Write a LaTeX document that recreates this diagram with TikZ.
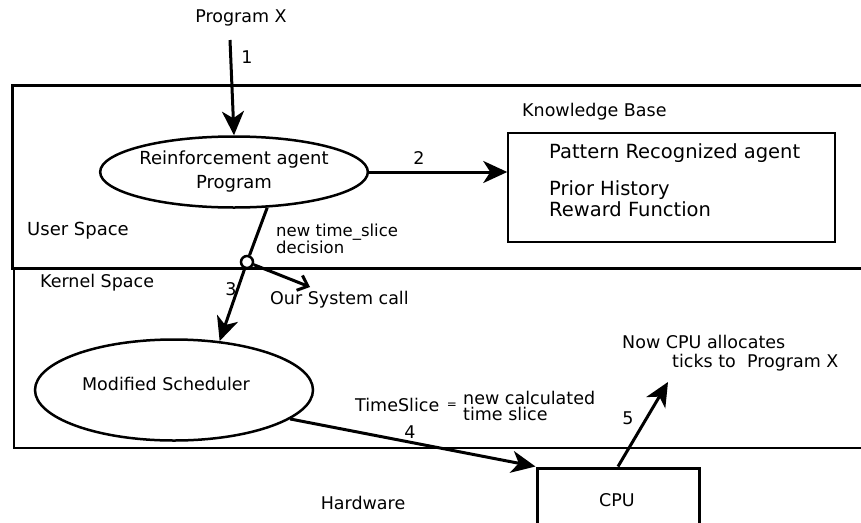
\documentclass[tikz,border=0pt]{standalone}
\usepackage{fontspec}
\setmainfont{DejaVu Sans}
\usetikzlibrary{arrows.meta,shapes.geometric}
\tikzset{
  txt/.style={inner sep=0pt, font=\fontsize{17.5}{20}\selectfont},
  ltxt/.style={txt, anchor=west},
  arr/.style={line width=3pt, -{Stealth[length=24pt,width=22pt,inset=7pt]}},
  ell/.style={ellipse, draw, line width=2.5pt, inner sep=0pt},
}
\begin{document}
\begin{tikzpicture}[x=1pt,y=-1pt]
\useasboundingbox[fill=white] (0,0) rectangle (861,522);
% regions
\draw[line width=1.5pt] (14,268) rectangle (880,448);
\draw[line width=3pt] (12,85) rectangle (880,268);
% texts
\node[txt] (progx) at (241,18) {Program X};
\node[txt] (l1) at (247,57) {1};
\node[ell, minimum width=262pt, minimum height=71pt, align=center,
      font=\fontsize{18}{24}\selectfont] (ra) at (234,172) {Reinforcement agent\\Program};
\node[draw, line width=1.5pt, minimum width=327pt, minimum height=109pt, inner sep=0pt] (kb) at (671.5,187.5) {};
\node[ltxt] (kbl) at (522,112) {Knowledge Base};
\node[ltxt, font=\fontsize{19.5}{22}\selectfont] (pra) at (549,153) {Pattern Recognized agent};
\node[ltxt, font=\fontsize{19.5}{22}\selectfont] (ph) at (549,190) {Prior History};
\node[ltxt, font=\fontsize{19.5}{22}\selectfont] (rf) at (549,209) {Reward Function};
\node[txt] (l2) at (419,158) {2};
\node[ltxt, font=\fontsize{18}{20}\selectfont] (us) at (27,231) {User Space};
\node[ltxt, font=\fontsize{16.5}{18}\selectfont] (nts) at (276,232) {new time\_slice};
\node[ltxt, font=\fontsize{16.5}{18}\selectfont] (dec) at (276,247) {decision};
\node[circle, draw, line width=2.5pt, minimum size=12pt, inner sep=0pt] (circ) at (247,262) {};
\node[ltxt] (ks) at (40,283) {Kernel Space};
\node[txt] (l3) at (231,289) {3};
\coordinate (sc) at (310,287);
\node[ltxt] (osc) at (270,300) {Our System call};
\node[ell, minimum width=278pt, minimum height=101pt] (ms) at (174,390) {};
\node[txt] (mst) at (166,384) {Modified Scheduler};
\node[ltxt] (tsl) at (355,405) {TimeSlice};
\node[txt, font=\fontsize{12}{13}\selectfont] (eq) at (452,406) {=};
\node[ltxt] (ncal) at (463,398) {new calculated};
\node[ltxt] (tsc) at (463,414) {time slice};
\node[txt] (l4) at (410,432) {4};
\node[draw, line width=3pt, minimum width=162pt, minimum height=64pt, inner sep=0pt] (cpu) at (618,500) {};
\node[txt] (cput) at (617,500) {CPU};
\node[txt] (hw) at (363,503) {Hardware};
\coordinate (e5) at (668,382);
\node[txt] (l5) at (628,418) {5};
\node[ltxt] (now) at (622,342) {Now CPU allocates};
\node[ltxt] (ticks) at (672,363) {ticks to\ \ Program X};
% connectors
\coordinate (s1) at (230,40);
\draw[arr] (s1) -- (ra.north);
\draw[arr] (ra.east) -- (ra.east -| kb.west);
\draw[line width=3pt] (ra.-47) -- (circ);
\draw[line width=3pt, -{Straight Barb[length=9pt,width=16pt]}] (circ) -- (sc);
\draw[arr] (circ) -- (ms.47);
\draw[arr] (ms.-14) -- (cpu.north west);
\draw[arr] (cpu.north) -- (e5);
\end{tikzpicture}
\end{document}
